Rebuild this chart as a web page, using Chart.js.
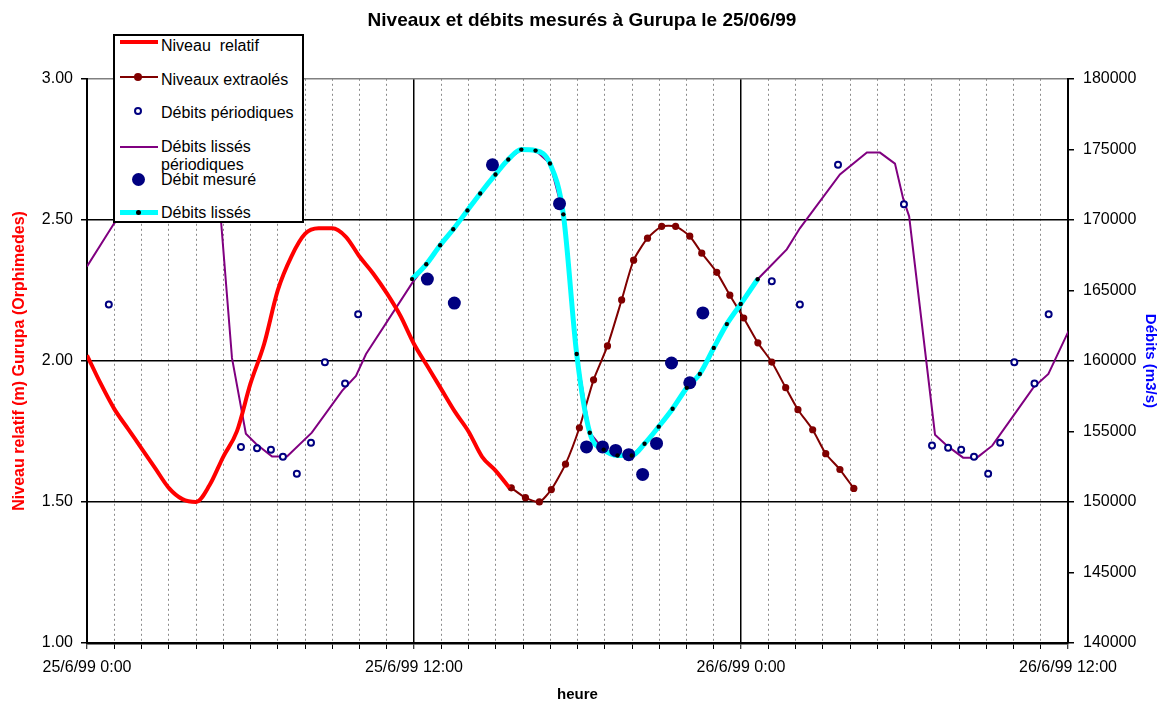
<!DOCTYPE html>
<html>
<head>
<meta charset="utf-8">
<script src="https://cdn.jsdelivr.net/npm/chart.js@4.4.1/dist/chart.umd.min.js"></script>
<style>
  body { margin: 0; background: #fff; }
  #wrap { position: relative; width: 1164px; height: 704px; font-family: "Liberation Sans", Arial, sans-serif; }
  #legend { position: absolute; left: 113px; top: 34px; width: 191px; height: 189px; box-sizing: border-box;
            border: 2px solid #000; background: #fff; }
  .sym { position: absolute; }
  .txt { position: absolute; font-size: 16px; line-height: 18px; color: #000; white-space: nowrap; }
</style>
</head>
<body>
<div id="wrap">
  <canvas id="chart" width="1164" height="704"></canvas>
  <!-- legend drawn over the plot like the original -->
  <div id="legend"></div>
  <div class="sym" style="left:120px;top:40px;width:38px;height:4px;background:#ff0000"></div>
  <div class="txt" style="left:161px;top:37px">Niveau&nbsp; relatif</div>
  <div class="sym" style="left:120px;top:76px;width:38px;height:2px;background:#800000"></div>
  <div class="sym" style="left:134px;top:73px;width:8px;height:8px;border-radius:50%;background:#800000"></div>
  <div class="txt" style="left:161px;top:71px">Niveaux extraolés</div>
  <div class="sym" style="left:134px;top:107px;width:4px;height:4px;border-radius:50%;border:2px solid #000080;background:#fff"></div>
  <div class="txt" style="left:161px;top:104px">Débits périodiques</div>
  <div class="sym" style="left:120px;top:146px;width:38px;height:2px;background:#800080"></div>
  <div class="txt" style="left:161px;top:138px;line-height:17.5px">Débits lissés<br>périodiques</div>
  <div class="sym" style="left:132px;top:173px;width:13px;height:13px;border-radius:50%;background:#000080"></div>
  <div class="txt" style="left:161px;top:171px">Débit mesuré</div>
  <div class="sym" style="left:120px;top:210px;width:38px;height:5px;background:#00ffff"></div>
  <div class="sym" style="left:136px;top:210px;width:5px;height:5px;border-radius:50%;background:#000"></div>
  <div class="txt" style="left:161px;top:204px">Débits lissés</div>
</div>
<script>
const chartTitle = 'Niveaux et débits mesurés à Gurupa le 25/06/99';
const xTickLabels = ['25/6/99 0:00', '25/6/99 12:00', '26/6/99 0:00', '26/6/99 12:00'];

// hours since 25/6/99 0:00
const niveauHours = [0, 0.5, 1, 1.5, 2, 2.5, 3, 3.5, 4, 4.5, 5, 5.5, 6, 6.5, 7, 7.5,
  8, 8.5, 9, 9.5, 10, 10.5, 11, 11.5, 12, 12.5, 13, 13.5, 14, 14.5, 15, 15.5];
const niveauValues = [2.02, 1.92, 1.83, 1.76, 1.69, 1.62, 1.55, 1.51, 1.50, 1.56, 1.66, 1.75, 1.92, 2.06, 2.25, 2.37,
  2.45, 2.47, 2.47, 2.44, 2.37, 2.31, 2.24, 2.16, 2.06, 1.98, 1.90, 1.82, 1.75, 1.66, 1.61, 1.55];

const extraHours = [15.57, 16.09, 16.6, 17.04, 17.56, 18.07, 18.59, 19.1, 19.62, 20.06, 20.57, 21.09, 21.6,
  22.12, 22.56, 23.11, 23.59, 24.1, 24.62, 25.13, 25.64, 26.09, 26.63, 27.11, 27.63, 28.14];
const extraValues = [1.55, 1.515, 1.5, 1.544, 1.634, 1.763, 1.933, 2.053, 2.216, 2.357, 2.435, 2.477, 2.477,
  2.442, 2.382, 2.314, 2.233, 2.152, 2.064, 1.996, 1.905, 1.827, 1.756, 1.671, 1.615, 1.548];

const periodHours = [0.8, 2.2, 4.66, 5.65, 6.24, 6.75, 7.19, 7.7, 8.22, 8.73, 9.47, 9.95,
  25.13, 26.16, 27.56, 29.98, 31.01, 31.6, 32.08, 32.55, 33.07, 33.51, 34.03, 34.77, 35.29];
const periodValues = [164000, 173900, 171150, 153900, 153800, 153700, 153200, 152000, 154200, 159900, 158400, 163300,
  165650, 164000, 173900, 171100, 154000, 153850, 153700, 153200, 152000, 154200, 159900, 158400, 163300];

const lissePeriodHours = [0, 0.98, 1.77, 2.3, 2.79, 3.27, 3.74, 4.29, 4.59, 4.92, 5.32, 5.83, 6.2, 6.79, 7.34,
  8.25, 9.36, 9.87, 10.24, 11.93, 12.45, 12.96, 13.44, 13.96, 14.43, 14.99, 15.46, 15.94, 16.46, 16.99,
  17.48, 17.97, 18.45, 18.96, 19.47, 19.99, 20.46, 20.98, 21.49, 22.01, 22.49, 23.0, 23.48, 23.99, 24.61,
  25.68, 26.16, 27.63, 28.62, 29.1, 29.65, 29.95, 30.17, 31.12, 31.56, 32.15, 32.66, 33.22, 34.13, 34.72,
  35.28, 36.09];
const lissePeriodValues = [166700, 169700, 171870, 173220, 174280, 174770, 174770, 173990, 171520, 169890,
  160210, 154840, 154130, 153220, 153220, 154910, 157880, 158940, 160490, 165510, 166850, 168200, 169330,
  170670, 171870, 173220, 174280, 174980, 174910, 173990, 170390, 160490, 154910, 153710, 153290, 153290,
  154130, 155340, 156610, 158090, 159080, 160920, 162610, 164030, 165790, 167910, 169400, 173220, 174770,
  174770, 173990, 171520, 170250, 154770, 153990, 153140, 153140, 153990, 156470, 158090, 159080, 162400];

const mesureHours = [12.49, 13.48, 14.88, 17.34, 18.33, 18.92, 19.4, 19.88, 20.39, 20.9, 21.45, 22.12, 22.6];
const mesureValues = [165800, 164100, 173900, 171150, 153900, 153900, 153650, 153350, 151950, 154150, 159850, 158450, 163400];

const lisseHours = [11.93, 12.45, 12.96, 13.44, 13.96, 14.43, 14.99, 15.46, 15.94, 16.46, 16.99, 17.48, 17.97,
  18.45, 18.96, 19.47, 19.99, 20.46, 20.98, 21.49, 22.01, 22.49, 23.0, 23.48, 23.99, 24.61];
const lisseValues = [165800, 166850, 168200, 169330, 170670, 171870, 173220, 174280, 174980, 174910, 173990, 170390, 160490,
  154910, 153710, 153290, 153290, 154130, 155340, 156610, 158090, 159080, 160920, 162610, 164030, 165790];

const zip = (xs, ys) => xs.map((x, i) => ({ x: x, y: ys[i] }));
const isMinor = ctx => ctx.tick && ctx.tick.value % 12 !== 0;

Chart.defaults.font.family = '"Liberation Sans", Arial, sans-serif';
Chart.defaults.color = '#000';

new Chart(document.getElementById('chart'), {
  type: 'scatter',
  data: {
    datasets: [
      { label: 'Débits lissés', data: zip(lisseHours, lisseValues), yAxisID: 'y1', showLine: false,
        pointRadius: 2.2, pointBorderWidth: 0, pointBackgroundColor: '#000', order: 0 },
      { label: 'Débit mesuré', data: zip(mesureHours, mesureValues), yAxisID: 'y1', showLine: false,
        pointRadius: 6.5, pointBorderWidth: 0, pointBackgroundColor: '#000080', order: 1 },
      { label: 'Débits lissés', data: zip(lisseHours, lisseValues), yAxisID: 'y1', showLine: true,
        borderColor: '#00ffff', borderWidth: 5, pointRadius: 0, cubicInterpolationMode: 'monotone', order: 2 },
      { label: 'Niveau relatif', data: zip(niveauHours, niveauValues), yAxisID: 'y', showLine: true,
        borderColor: '#ff0000', borderWidth: 4, pointRadius: 0, cubicInterpolationMode: 'monotone', order: 3 },
      { label: 'Niveaux extraolés', data: zip(extraHours, extraValues), yAxisID: 'y', showLine: true,
        borderColor: '#800000', borderWidth: 2, tension: 0.2, pointRadius: 3.6, pointBorderWidth: 0,
        pointBackgroundColor: '#800000', order: 4 },
      { label: 'Débits périodiques', data: zip(periodHours, periodValues), yAxisID: 'y1', showLine: false,
        pointRadius: 3, pointBorderWidth: 2, pointBorderColor: '#000080', pointBackgroundColor: '#fff', order: 5 },
      { label: 'Débits lissés périodiques', data: zip(lissePeriodHours, lissePeriodValues), yAxisID: 'y1', showLine: true,
        borderColor: '#800080', borderWidth: 2, pointRadius: 0, order: 6 }
    ]
  },
  options: {
    responsive: false,
    animation: false,
    layout: { padding: 0 },
    plugins: {
      legend: { display: false },
      tooltip: { enabled: false },
      title: { display: true, text: chartTitle, color: '#000', font: { size: 19, weight: 'bold' },
        padding: { top: 9, bottom: 47 } }
    },
    scales: {
      x: {
        type: 'linear', min: 0, max: 36,
        afterFit: s => { s.height = 61; },
        ticks: { stepSize: 1, autoSkip: false, maxRotation: 0, padding: 9, font: { size: 16 },
          callback: v => (v % 12 === 0 ? xTickLabels[v / 12] : '') },
        grid: { color: ctx => (isMinor(ctx) ? '#8a8a8a' : '#000'), lineWidth: ctx => (isMinor(ctx) ? 1 : 1.5),
          tickLength: 6, tickColor: '#000', tickWidth: 1, tickBorderDash: [] },
        border: { color: '#000', width: 2.5, dash: ctx => (isMinor(ctx) ? [2, 3] : []) },
        title: { display: true, text: 'heure', font: { size: 15, weight: 'bold' }, padding: { top: 0, bottom: 0 } }
      },
      y: {
        position: 'left', min: 1, max: 3,
        afterFit: s => { s.width = 87; },
        ticks: { stepSize: 0.5, padding: 8, font: { size: 16 }, callback: v => v.toFixed(2) },
        grid: { color: ctx => (ctx.tick && ctx.tick.value === 3 ? '#808080' : '#000'), lineWidth: 1.5,
          tickLength: 6, tickColor: '#000' },
        border: { color: '#000', width: 2 },
        title: { display: true, text: 'Niveau relatif (m) Gurupa (Orphimedes)', color: '#ff0000',
          font: { size: 16, weight: 'bold' }, padding: { top: 10, bottom: 0 } }
      },
      y1: {
        position: 'right', min: 140000, max: 180000,
        afterFit: s => { s.width = 96; },
        ticks: { stepSize: 5000, padding: 9, font: { size: 16 }, callback: v => String(v) },
        grid: { drawOnChartArea: false, tickLength: 6, color: '#000', lineWidth: 1.5 },
        border: { color: '#000', width: 2 },
        title: { display: true, text: 'Débits (m3/s)', color: '#0000ff', font: { size: 15, weight: 'bold' },
          padding: { top: 5, bottom: 0 } }
      }
    }
  }
});
</script>
</body>
</html>
